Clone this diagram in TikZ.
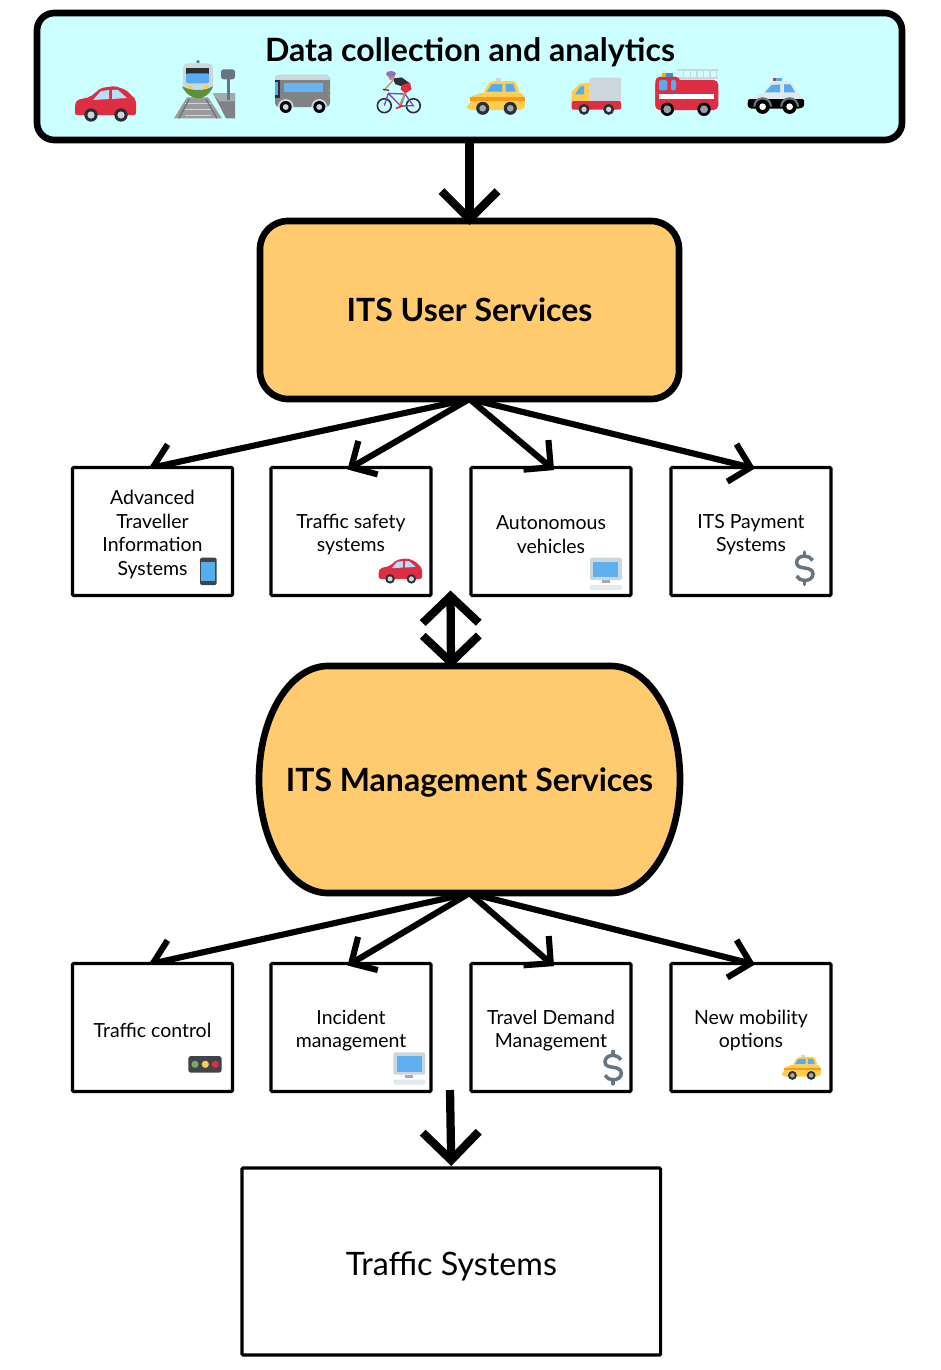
\documentclass[tikz,border=0pt]{standalone}
\usepackage{fontspec}
\setmainfont{Lato}
\usetikzlibrary{arrows.meta,backgrounds}
\definecolor{skybox}{HTML}{CCFFFF}
\definecolor{orangebox}{HTML}{FFCB6E}
\definecolor{icred}{HTML}{DD2E44}
\definecolor{icblue}{HTML}{55ACEE}
\definecolor{icdark}{HTML}{292F33}
\definecolor{icgrey}{HTML}{CCD6DD}
\definecolor{icpale}{HTML}{E1E8ED}
\definecolor{icyellow}{HTML}{FFCC4D}
\definecolor{icorange}{HTML}{F4900C}
\definecolor{icslate}{HTML}{66757F}
\definecolor{icmetal}{HTML}{808285}
\definecolor{icgreen}{HTML}{5C913B}
\definecolor{icpurple}{HTML}{744EAA}
\definecolor{icskin}{HTML}{C68F6A}
\tikzset{
  databox/.style={draw,fill=skybox,line width=5pt,rounded corners=13pt,outer sep=0pt,
    minimum width=648.75pt,minimum height=95.25pt},
  userbox/.style={draw,fill=orangebox,line width=5pt,rounded corners=21pt,outer sep=0pt,
    minimum width=314.25pt,minimum height=133.5pt,font=\fontsize{24}{30}\selectfont\bfseries},
  mgmttext/.style={outer sep=0pt,minimum width=315pt,minimum height=170.5pt,text depth=0pt,
    font=\fontsize{24}{30}\selectfont\bfseries},
  smallbox/.style={draw,fill=white,line width=2.3pt,rounded corners=.8pt,outer sep=0pt,
    minimum width=120pt,minimum height=96pt},
  smalltext/.style={align=center,font=\fontsize{14.6}{17.7}\selectfont},
  trafficbox/.style={draw,fill=white,line width=2.3pt,rounded corners=.8pt,outer sep=0pt,
    minimum width=314pt,minimum height=140.25pt},
  traffictext/.style={font=\fontsize{24.2}{30}\selectfont},
  bigarrow/.style={line width=6.2pt,-{Straight Barb[length=21pt,width=42pt,line cap=butt]}},
  smallarrow/.style={line width=4.6pt,shorten >=-3pt,-{Straight Barb[length=14.5pt,width=29pt,line cap=butt]}},
  % the small pictures, drawn in pixels from their top left corner
  caricon/.pic={
    \fill[icred,rounded corners=1.5pt] (1,29) -- (1,18) -- (3,14) -- (16,11) -- (27,2) -- (41,0) -- (52,4) -- (62,14) -- (62,29) -- cycle;
    \fill[icblue!40] (19,14) -- (27,5) -- (35,4) -- (35,13) -- cycle;
    \fill[icblue!40] (38,4) -- (44,4) -- (53,12) -- (38,13) -- cycle;
    \foreach \x in {17,47} {
      \fill[icdark] (\x,29) circle (5pt);
      \fill[icgrey] (\x,29) circle (2.7pt);
    }
  },
  trainicon/.pic={
    \fill[icmetal!80] (0,59) -- (13,38) -- (34,38) -- (48,59) -- cycle;
    \foreach \y in {44,50,56} { \draw[icgrey,line width=1.2pt] (11,\y) -- (37,\y); }
    \draw[icslate,line width=1pt] (5,59) -- (15,40) (43,59) -- (32,40);
    \fill[icmetal] (39,34) -- (61,34) -- (61,59) -- (52,59) -- cycle;
    \fill[icgrey!80!black] (39,34) -- (61,34) -- (61,42) -- (45,42) -- cycle;
    \fill[icslate] (53,18) rectangle (56,41);
    \fill[icslate,rounded corners=2pt] (47,10) rectangle (61,20);
    \fill[icslate] (24,2.5) circle (1.4pt);
    \fill[icgrey,rounded corners=3.5pt] (9,4) rectangle (39,32);
    \fill[icdark] (12,9) rectangle (35,15);
    \fill[icblue,rounded corners=1.5pt] (12,14) rectangle (35,24);
    \fill[icgreen] (8,27) .. controls (12,35) and (18,39) .. (24,39) .. controls (30,39) and (36,35) .. (39,27) .. controls (30,32) and (18,32) .. (8,27);
    \fill[icyellow] (16,28) circle (1.5pt) (32,28) circle (1.5pt);
  },
  busicon/.pic={
    \fill[icmetal,rounded corners=3pt] (0,0) rectangle (55,32);
    \fill[icgrey,rounded corners=3pt] (0,0) rectangle (55,8);
    \fill[icmetal] (0,5) rectangle (55,8);
    \fill[icblue!90] (9.3,7.7) rectangle (47.7,16.7);
    \fill[icdark] (0,5) rectangle (4.5,23);
    \fill[icblue] (0,7) rectangle (3,20);
    \fill[icorange] (54,15) circle (.6pt) (54,21) circle (.6pt);
    \foreach \x in {10.7,44.3} {
      \fill[icgrey] (\x-8,32) arc[start angle=180,end angle=360,radius=8] -- cycle;
      \fill[black] (\x,32) circle (4.5pt);
      \fill[icgrey] (\x,32) circle (2.2pt);
    }
  },
  cyclisticon/.pic={
    \draw[icdark,line width=1.2pt] (8.3,35) circle (5.2pt) (37.3,35) circle (5.2pt);
    \draw[icpurple,line width=1pt] (8.3,35) -- (12.3,22.7) -- (29,23.3) -- (24.7,35.3) -- (12.3,22.7) (24.7,35.3) -- (37.3,35) -- (29,23.3);
    \draw[icskin,line width=1pt] (17.3,9.5) -- (9,18.5);
    \draw[icskin,line width=1.3pt] (29,22.7) -- (24,34);
    \fill[icdark] (17.3,7.7) -- (25.7,6.7) -- (34,12.7) -- (29,16.7) -- (19,13.3) -- cycle;
    \fill[icred] (25.7,14.3) -- (34,12) -- (35.7,18.7) -- (29,22.7) -- (24.7,18.7) -- cycle;
    \fill[icskin] (15.5,6.5) circle (2.4pt);
    \fill[icpurple!80] (15,3.3) ellipse [x radius=5,y radius=3];
    \draw[icred,line width=1.3pt] (20,37.7) -- (27,35);
    \draw[icdark,line width=.9pt] (7,18.8) -- (13,19.6);
  },
  taxiicon/.pic={
    \fill[icgrey] (29.7,0) rectangle (34.7,3.3);
    \fill[icyellow,rounded corners=1.5pt] (17.3,14.3) -- (24,3.3) -- (49,2.7) -- (54,14.3) -- cycle;
    \fill[icyellow,rounded corners=1.5pt] (4.7,18.3) -- (15.7,14.3) -- (55.7,14.3) -- (59,20) -- (59.3,28) -- (56,31.7) -- (3,31.7) -- (0,28) -- (4.7,25) -- cycle;
    \fill[icorange!80!icyellow] (4,19) rectangle (59,22.3);
    \fill[icblue] (20.7,13.3) -- (25.7,6) -- (36.3,5.7) -- (36.3,13.3) -- cycle;
    \fill[icblue] (39.7,5.7) -- (47.3,5.7) -- (49.7,13.3) -- (39.7,13.3) -- cycle;
    \foreach \x in {16.7,44.3} {
      \fill[icdark] (\x,30) circle (4.9pt);
      \fill[icgrey!80!black] (\x,30) circle (2.5pt);
    }
  },
  truckicon/.pic={
    \fill[icgrey,rounded corners=1.5pt] (17.7,0) rectangle (49.3,25);
    \fill[icyellow] (0,24) -- (0,14) -- (8,6) -- (17.7,5) -- (17.7,24) -- cycle;
    \fill[icred,rounded corners=1.5pt] (0,23.3) rectangle (49.3,32);
    \fill[icblue] (3.3,16.7) -- (8.3,9) -- (12.3,8.3) -- (12.3,16.7) -- cycle;
    \foreach \x in {12.3,37} {
      \fill[icdark] (\x,31.7) circle (4.1pt);
      \fill[icgrey] (\x,31.7) circle (2pt);
    }
  },
  fireicon/.pic={
    \draw[icgrey,line width=1.8pt] (21.3,1.3) -- (63,1.3) (21.3,9.3) -- (63,9.3);
    \foreach \x in {28,35,41.7,48,54.7,61} { \draw[icgrey,line width=1.2pt] (\x,1.3) -- (\x,9.3); }
    \fill[icred,rounded corners=3.5pt] (0,7.7) rectangle (25,41);
    \fill[icred,rounded corners=3.5pt] (0,11) rectangle (63,41);
    \fill[icblue,rounded corners=1pt] (3.7,11) rectangle (12,21.3);
    \fill[icblue,rounded corners=1pt] (15.7,11) rectangle (20.7,21.3);
    \fill[white] (3.7,24.7) rectangle (59,30.3);
    \fill[icorange!70!icyellow] (7,4.3) rectangle (11.5,7.7);
    \fill[icblue!80!black] (10.7,4) rectangle (17.3,7.7);
    \foreach \x in {12,48.7} {
      \fill[black] (\x,40.3) circle (5pt);
      \fill[icslate!70] (\x,40.3) circle (3pt);
    }
  },
  policeicon/.pic={
    \fill[icred] (25.3,0) rectangle (28.7,3.3);
    \fill[icblue] (28.7,0) rectangle (34.3,3.3);
    \fill[icpale,rounded corners=1.5pt] (15.3,15.7) -- (24.3,4) -- (44.3,3.3) -- (50,15.7) -- cycle;
    \fill[icpale] (1,21.5) -- (14.3,15.7) -- (51,15.7) -- (56.7,21.5) -- cycle;
    \fill[black,rounded corners=1pt] (1,21.3) -- (56.7,21.3) -- (56.7,29) -- (52,31) -- (3,31) -- (0,28) -- cycle;
    \fill[icblue] (17.7,14.7) -- (24.3,7.3) -- (32.7,6.7) -- (32.7,14.7) -- cycle;
    \fill[icblue] (36.7,6.7) -- (43.3,6.7) -- (47.7,14.7) -- (36.7,14.7) -- cycle;
    \foreach \x in {15.3,42.3} {
      \fill[icslate] (\x-9.5,29) arc[start angle=180,end angle=360,radius=9.5] -- cycle;
      \fill[black] (\x,29) circle (5.4pt);
      \fill[white] (\x,29) circle (2.5pt);
    }
  },
  phoneicon/.pic={
    \fill[icdark!90!white,rounded corners=1.5pt] (0,0) rectangle (16.7,27.3);
    \fill[icblue] (1.3,4) rectangle (15.3,23);
  },
  pcicon/.pic={
    \fill[icgrey,rounded corners=1.5pt] (0,0) rectangle (32,22.3);
    \fill[icblue!95] (3.3,4) rectangle (28.3,19.7);
    \fill[icmetal!70] (11.7,22.3) rectangle (20,25.7);
    \fill[icpale,rounded corners=1pt] (0,27.3) rectangle (32,32.3);
    \foreach \x in {3,6,...,30} { \fill[white] (\x,29.8) circle (.4pt); }
  },
  dollaricon/.pic={
    \draw[icslate,line width=2.6pt] (18.3,10.5) .. controls (16,7.5) and (13.5,6) .. (10.3,6) .. controls (6,6) and (2.3,8.5) .. (2.3,12.5) .. controls (2.3,16.5) and (6,17.5) .. (10.3,18) .. controls (15,18.5) and (18.6,20) .. (18.6,24) .. controls (18.6,28) and (15,30.5) .. (10.3,30.5) .. controls (7,30.5) and (4,29) .. (2.3,26);
    \draw[icslate,line width=2.6pt,line cap=round] (10.3,2) -- (10.3,6) (10.3,30.5) -- (10.3,34.5);
  },
  lighticon/.pic={
    \fill[icdark!90!white,rounded corners=2pt] (0,0) rectangle (33.3,16.7);
    \fill[icgreen!80!white] (6.7,8.3) circle (2.7pt);
    \fill[icyellow] (17,8.3) circle (2.7pt);
    \fill[icred] (27,8.3) circle (2.7pt);
  },
}
\begin{document}
\begin{tikzpicture}[x=.75pt,y=-.75pt]
\useasboundingbox (0,0) rectangle (940,1370);
% Draw the boxes
\node[databox] (data) at (469.5,76.5) {};
\node[font=\fontsize{24.1}{30}\selectfont\bfseries,text depth=0pt] (datatitle) at (470,50) {Data collection and analytics};
\node[userbox] (user) at (469.5,310) {ITS User Services};
% the management box has elliptic ends
\draw[fill=orangebox,line width=5pt] (328,666) -- (611,666) arc[start angle=-90,end angle=90,x radius=69,y radius=113.5]
  -- (328,893) arc[start angle=90,end angle=270,x radius=69,y radius=113.5] -- cycle;
\node[mgmttext] (mgmt) at (469.5,779.5) {ITS Management Services};
\node[trafficbox] (traffic) at (451.3,1261.5) {};
\node[traffictext] (traffictitle) at (451.3,1266.5) {Traffic Systems};
% the small boxes -- upper row
\foreach \name/\x/\txt in {atis/152.5/{Advanced\\Traveller\\Information\\Systems},
  safety/351/{Traffic safety\\systems},
  auto/551/{Autonomous\\vehicles},
  payment/751/{ITS Payment\\Systems}} {
\node[smallbox] (\name) at (\x,531.5) {};
\node[smalltext] (\name title) at (\x,534.5) {\txt};
}
% the small boxes -- lower row
\foreach \name/\x/\txt in {control/152.5/{Traffic control},
  incident/351/{Incident\\management},
  demand/551/{Travel Demand\\Management},
  mobility/751/{New mobility\\options}} {
\node[smallbox] (\name) at (\x,1027.5) {};
\node[smalltext] (\name title) at (\x,1030.5) {\txt};
}
% free ends of the vertical arrows
\coordinate (gaptop) at (450.5,590.5);
\coordinate (mgmttop) at (451,668);
\coordinate (gapbottom) at (450,1090);
% Draw the arrows
\draw[bigarrow,shorten >=-3pt] (data.south) -- (user.north);
\draw[bigarrow,{Straight Barb[length=20pt,width=42pt,line cap=butt]}-{Straight Barb[length=20pt,width=42pt,line cap=butt]}] (gaptop) -- (mgmttop);
\draw[bigarrow,shorten >=1.5pt] (gapbottom) -- (traffic.north);
\begin{scope}[on background layer]
\draw[smallarrow] (user.south) -- (atis.north);
\draw[smallarrow] (mgmt.south) -- (control.north);
\end{scope}
\foreach \name in {safety,auto,payment} { \draw[smallarrow] (user.south) -- (\name.north); }
\foreach \name in {incident,demand,mobility} { \draw[smallarrow] (mgmt.south) -- (\name.north); }
% Draw the icons
\foreach \icon/\x/\y in {caricon/74/86,trainicon/174/59.3,busicon/275/75,cyclisticon/376/70.7,
  taxiicon/466/78.3,truckicon/571.7/77.7,fireicon/655.3/69,policeicon/747.3/77.7,
  phoneicon/200/557.7,pcicon/590/557.7,dollaricon/794.3/550,
  lighticon/188.3/1056,pcicon/393.3/1052.3,dollaricon/602.7/1049.3} {
\pic at (\x,\y) {\icon};
}
\pic[scale=.71] at (378,558.3) {caricon};
\pic[scale=.68] at (781,1055) {taxiicon};
\end{tikzpicture}
\end{document}
